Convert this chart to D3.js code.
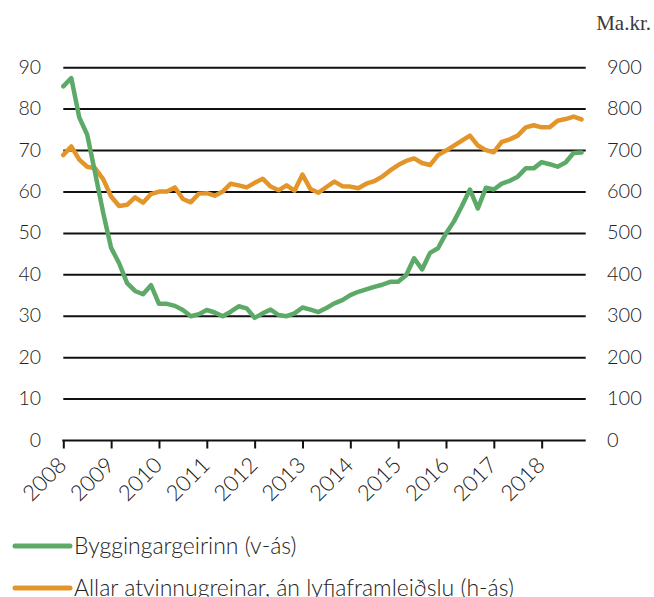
<!DOCTYPE html>
<html>
<head>
<meta charset="utf-8">
<script src="https://cdn.jsdelivr.net/npm/d3@7"></script>
<style>
  body { margin: 0; background: #fff; }
  svg text { font-family: Lato, "Open Sans", sans-serif; font-weight: 300; fill: #222; }
</style>
</head>
<body>
<div id="chart"></div>
<script>
// two-month periods, Jan-Feb 2008 .. Nov-Dec 2018
const years = [2008, 2009, 2010, 2011, 2012, 2013, 2014, 2015, 2016, 2017, 2018];
const leftTicks = [0, 10, 20, 30, 40, 50, 60, 70, 80, 90];
const rightTicks = [0, 100, 200, 300, 400, 500, 600, 700, 800, 900];

// Byggingargeirinn (v-ás)
const bygging = [85.5, 87.5, 78.0, 73.8, 64.5, 55.0, 46.5, 42.8, 38.0, 36.1, 35.3, 37.5,
  33.0, 33.0, 32.5, 31.5, 30.0, 30.5, 31.5, 30.9, 30.0, 31.1, 32.4, 31.9,
  29.6, 30.7, 31.6, 30.3, 30.0, 30.7, 32.1, 31.6, 31.0, 32.0, 33.1, 33.9,
  35.1, 35.9, 36.5, 37.1, 37.6, 38.3, 38.3, 39.9, 44.0, 41.3, 45.3, 46.4,
  50.0, 52.9, 56.6, 60.6, 56.0, 61.0, 60.6, 62.0, 62.7, 63.7, 65.7, 65.7,
  67.2, 66.7, 66.1, 67.1, 69.4, 69.5];

// Allar atvinnugreinar, án lyfjaframleiðslu (h-ás), ma.kr.
const allar = [689, 710, 678, 661, 657, 631, 589, 566, 569, 587, 574, 595,
  601, 601, 611, 583, 575, 596, 597, 591, 601, 620, 616, 611,
  622, 632, 613, 604, 616, 603, 642, 607, 598, 612, 625, 614,
  613, 609, 620, 626, 637, 652, 665, 675, 681, 670, 665, 689,
  700, 712, 724, 736, 712, 701, 696, 721, 727, 736, 756, 761,
  756, 756, 772, 776, 782, 775];

const seriesNames = ["Byggingargeirinn (v-ás)", "Allar atvinnugreinar, án lyfjaframleiðslu (h-ás)"];
const colors = ["#5ca968", "#e3952a"];

let width = 654, height = 597;
let svg = d3.select("#chart").append("svg")
  .attr("width", width)
  .attr("height", height);

let x = d3.scaleLinear().domain([2008, 2019]).range([63.3, 589.5]);
let yL = d3.scaleLinear().domain([0, 90]).range([440.5, 67.7]);
let yR = d3.scaleLinear().domain([0, 900]).range([440.5, 67.7]);
let xEnd = 585.7;

// gridlines
svg.append("g")
  .selectAll("line")
  .data(leftTicks.filter(d => d > 0))
  .enter().append("line")
  .attr("x1", x(2008)).attr("x2", xEnd)
  .attr("y1", d => yL(d)).attr("y2", d => yL(d))
  .attr("stroke", "#111").attr("stroke-width", 2);

// left axis labels
svg.append("g")
  .selectAll("text")
  .data(leftTicks)
  .enter().append("text")
  .attr("x", 41)
  .attr("y", d => yL(d) + 6)
  .attr("text-anchor", "end")
  .style("font-size", "19.5px")
  .text(d => d);

// right axis labels
svg.append("g")
  .selectAll("text")
  .data(rightTicks)
  .enter().append("text")
  .attr("x", 607)
  .attr("y", d => yR(d) + 6)
  .style("font-size", "20px")
  .text(d => d);

svg.append("text")
  .attr("x", 651).attr("y", 30)
  .attr("text-anchor", "end")
  .style("font-family", "'Liberation Serif', 'DejaVu Serif', serif")
  .style("font-weight", 400)
  .style("font-size", "21px")
  .style("fill", "#3a3a3a")
  .text("Ma.kr.");

// x axis
let xAxis = svg.append("g")
  .attr("transform", `translate(0,${yL(0)})`)
  .call(d3.axisBottom(x)
    .tickValues(years)
    .tickSize(8)
    .tickFormat(d3.format("d")));
xAxis.select(".domain").remove();
xAxis.selectAll(".tick line").attr("stroke", "#111").attr("stroke-width", 2);
xAxis.append("line")
  .attr("x1", x(2008) - 1).attr("x2", xEnd)
  .attr("stroke", "#111").attr("stroke-width", 2);
xAxis.selectAll(".tick text")
  .attr("x", 0).attr("y", 0).attr("dy", 0)
  .attr("text-anchor", "end")
  .attr("fill", "#222")
  .attr("transform", "translate(4,26) rotate(-45)")
  .style("font-family", "Lato, sans-serif")
  .style("font-weight", 300)
  .style("font-size", "22px");

// lines
let t = (d, i) => 2008 + i / 6;
let lineL = d3.line().x((d, i) => x(t(d, i))).y(d => yL(d));
let lineR = d3.line().x((d, i) => x(t(d, i))).y(d => yR(d));

svg.append("path")
  .datum(allar)
  .attr("d", lineR)
  .attr("fill", "none")
  .attr("stroke", colors[1])
  .attr("stroke-width", 4.5)
  .attr("stroke-linejoin", "round")
  .attr("stroke-linecap", "round");

svg.append("path")
  .datum(bygging)
  .attr("d", lineL)
  .attr("fill", "none")
  .attr("stroke", colors[0])
  .attr("stroke-width", 4.5)
  .attr("stroke-linejoin", "round")
  .attr("stroke-linecap", "round");

// legend
let legend = svg.append("g");
let items = legend.selectAll("g")
  .data(seriesNames)
  .enter().append("g")
  .attr("transform", (d, i) => `translate(0,${546 + i * 42})`);
items.append("line")
  .attr("x1", 15).attr("x2", 70)
  .attr("stroke", (d, i) => colors[i])
  .attr("stroke-width", 5)
  .attr("stroke-linecap", "round");
items.append("text")
  .attr("x", 74).attr("y", 8)
  .style("font-size", "23px")
  .text(d => d);
</script>
</body>
</html>
